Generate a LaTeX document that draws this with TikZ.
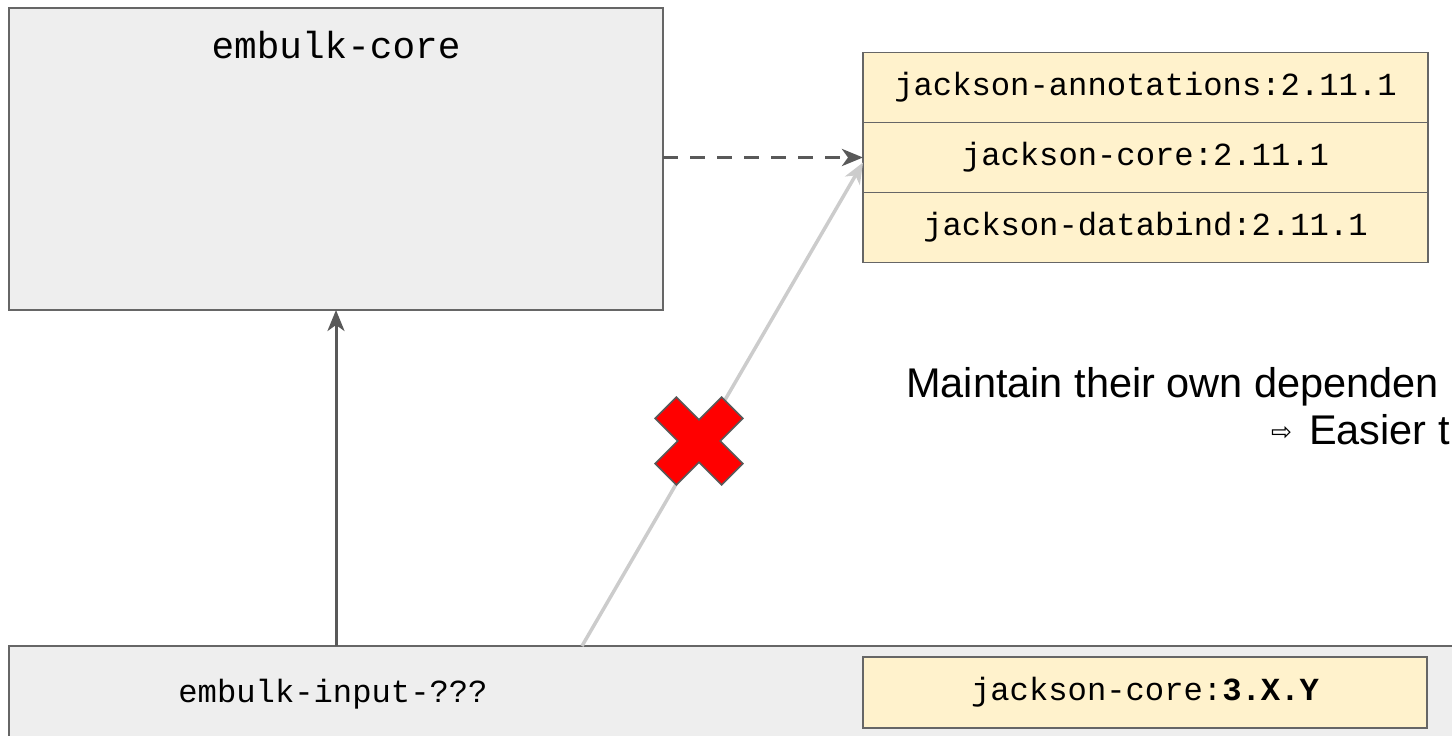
\documentclass[tikz,border=0pt]{standalone}
\usepackage{fontspec}
\setmainfont{Liberation Sans}
\setmonofont{Liberation Mono}
\newfontfamily\symfont{DejaVu Sans}
\usetikzlibrary{positioning,arrows.meta}
\definecolor{boxgray}{HTML}{EEEEEE}
\definecolor{edgegray}{HTML}{666666}
\definecolor{linkgray}{HTML}{595959}
\definecolor{ghost}{HTML}{CCCCCC}
\definecolor{libyellow}{HTML}{FFF2CC}

\begin{document}
\begin{tikzpicture}[x=1pt,y=1pt,>={Stealth[length=21pt,width=17pt,inset=6pt]},
  mod/.style = {draw=edgegray, line width=1.8pt, fill=boxgray, outer sep=0pt, inner sep=0pt},
  lib/.style = {draw=edgegray, line width=1.8pt, fill=libyellow, outer sep=0pt, inner sep=0pt,
                minimum width=565pt, minimum height=70pt, font=\ttfamily\fontsize{32.2}{36}\selectfont},
  txt/.style = {inner sep=0pt, font=\ttfamily\fontsize{32.2}{36}\selectfont}]
\useasboundingbox (0,0) rectangle (1452,736);
\clip (0,0) rectangle (1452,736);

% modules
\node[mod, minimum width=654pt, minimum height=302pt] (core) at (336,577) {};
\node[txt, font=\ttfamily\fontsize{37.7}{42}\selectfont, below=23pt of core.north] (corename) {embulk-core};
\node[mod, minimum width=1480pt, minimum height=120pt, anchor=north west] (input) at (9,90) {};
\node[txt] (inputname) at (333,42) {embulk-input-???};

% jackson libraries
\node[lib] (ann) at (1145.5,648.5) {jackson-annotations:2.11.1};
\node[lib] (jcore) [below=0pt of ann] {jackson-core:2.11.1};
\node[lib] (bind) [below=0pt of jcore] {jackson-databind:2.11.1};
\node[lib, minimum width=564pt, minimum height=71pt] (jnew) at (1145,43.5) {jackson-core:\textbf{3.X.Y}};

% dependencies
\coordinate (fork) at (582,90);
\path[->]
    (core.east |- jcore.west) edge [linkgray, line width=3.5pt, dash pattern=on 15pt off 12pt] (jcore.west)
    (core.south |- input.north) edge [linkgray, line width=3pt] (core.south)
    (fork) edge [ghost, line width=3.5pt] ([yshift=-5pt]jcore.west);

% not allowed
\begin{scope}[shift={(699,295)},rotate=45]
\filldraw[fill=red, draw=linkgray, line width=1.5pt]
    (47,15) -- (15,15) -- (15,47) -- (-15,47) -- (-15,15) -- (-47,15) -- (-47,-15)
    -- (-15,-15) -- (-15,-47) -- (15,-47) -- (15,-15) -- (47,-15) -- cycle;
\end{scope}

\node[anchor=base west, inner sep=0pt, font=\fontsize{41.5}{49}\selectfont] (maintain) at (906,338) {Maintain their own dependen};
\node[anchor=base west, inner sep=0pt, font=\fontsize{41.5}{49}\selectfont] (easier) at (1271,291)
    {\raisebox{4pt}{\symfont\fontsize{25}{30}\selectfont ⇨}\hspace{17pt}Easier t};
\end{tikzpicture}
\end{document}
